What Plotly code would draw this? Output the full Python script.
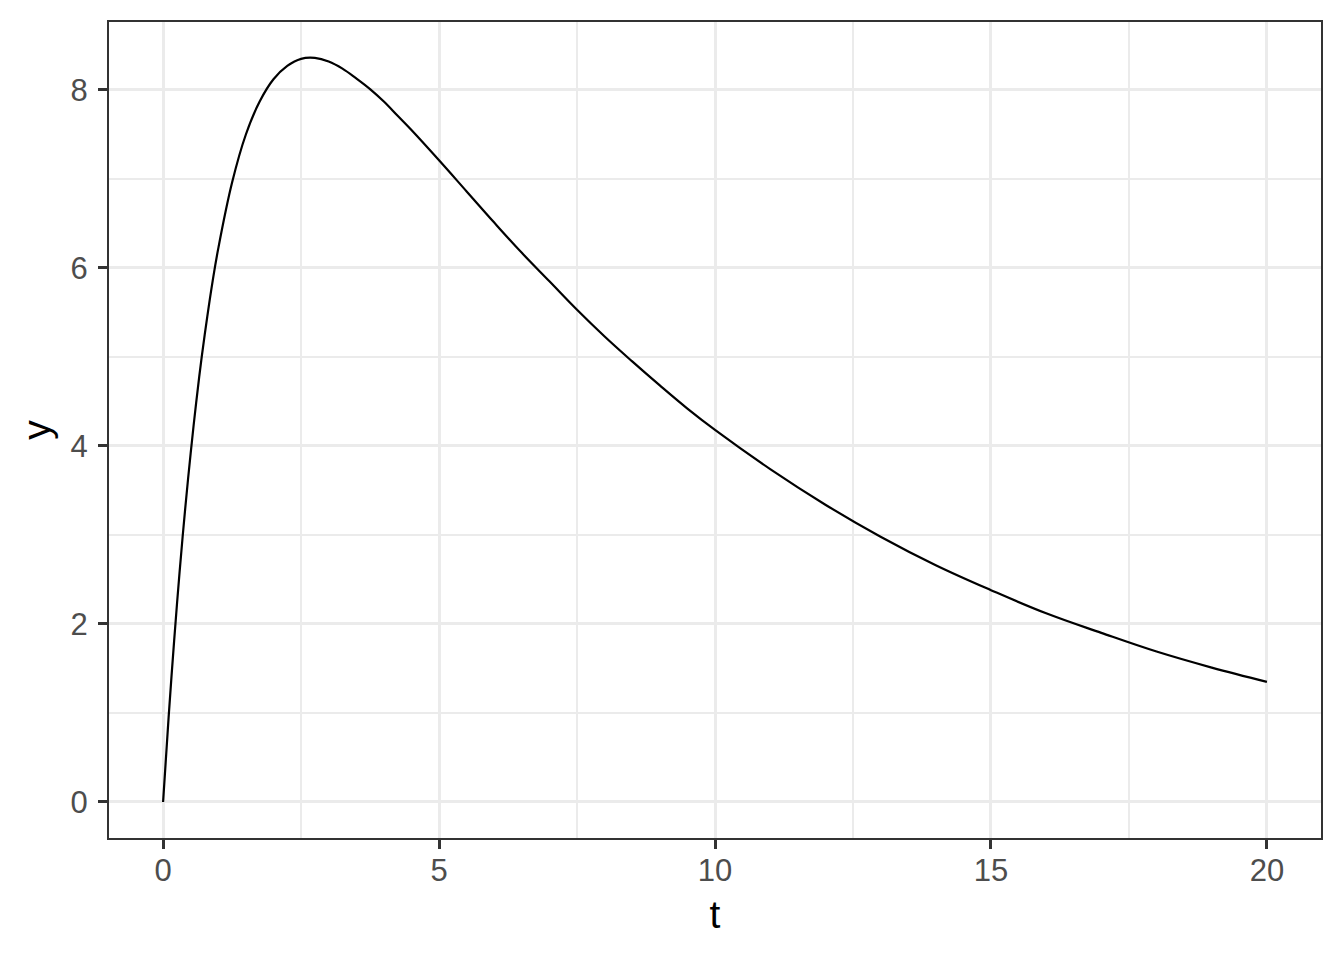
import plotly.graph_objects as go

# values
t = [0, 0.1, 0.2, 0.3, 0.4, 0.5, 0.6, 0.7, 0.8, 0.9, 1.0, 1.25, 1.5,
     1.75, 2.0, 2.25, 2.5, 2.75, 3.0, 3.25, 3.5, 3.75, 4.0, 4.25, 4.5,
     5.0, 5.5, 6.0, 6.5, 7.0, 7.5, 8.0, 8.5, 9.0, 9.5, 10,
     11, 12, 13, 14, 15, 16, 17, 18, 19, 20]
y = [0, 0.95, 1.81, 2.59, 3.29, 3.92, 4.49, 5.00, 5.45, 5.86, 6.22, 6.96, 7.50,
     7.87, 8.12, 8.27, 8.35, 8.36, 8.32, 8.24, 8.13, 8.01, 7.87, 7.71, 7.55,
     7.21, 6.86, 6.51, 6.17, 5.85, 5.53, 5.23, 4.95, 4.68, 4.42, 4.18,
     3.74, 3.34, 2.98, 2.66, 2.38, 2.12, 1.90, 1.69, 1.51, 1.35]

x_ticks = [0, 5, 10, 15, 20]
y_ticks = [0, 2, 4, 6, 8]

grid = '#EBEBEB'
axis_common = dict(
    showline=True, mirror=True, linecolor='#333333', linewidth=2,
    ticks='outside', ticklen=9, tickwidth=2.5, tickcolor='#333333',
    tickfont=dict(size=31, color='#4D4D4D'),
    showgrid=True, gridcolor=grid, gridwidth=3,
    zeroline=False,
)

fig = go.Figure(go.Scatter(x=t, y=y, mode='lines',
                           line=dict(color='black', width=2.2, shape='spline', smoothing=1.1)))

# page has an 8px body margin, so shrink the figure to keep the panel where it is
fig.update_layout(
    width=1328, height=944,
    paper_bgcolor='white', plot_bgcolor='white',
    font=dict(family='Liberation Sans, Arial, sans-serif'),
    margin=dict(l=101, r=15, t=14, b=114),
    showlegend=False,
    xaxis=dict(
        range=[-0.98, 20.98], tickvals=x_ticks, ticklabelstandoff=-5,
        minor=dict(dtick=2.5, tick0=0, showgrid=True, gridcolor=grid, gridwidth=1.6, ticks=''),
        title=dict(text='t', font=dict(size=39, color='black'), standoff=13),
        **axis_common
    ),
    yaxis=dict(
        range=[-0.405, 8.764], tickvals=y_ticks, ticklabelstandoff=4,
        minor=dict(dtick=1, tick0=0, showgrid=True, gridcolor=grid, gridwidth=1.6, ticks=''),
        title=dict(text='y', font=dict(size=39, color='black'), standoff=8),
        **axis_common
    ),
)

fig.write_html('out.html')
